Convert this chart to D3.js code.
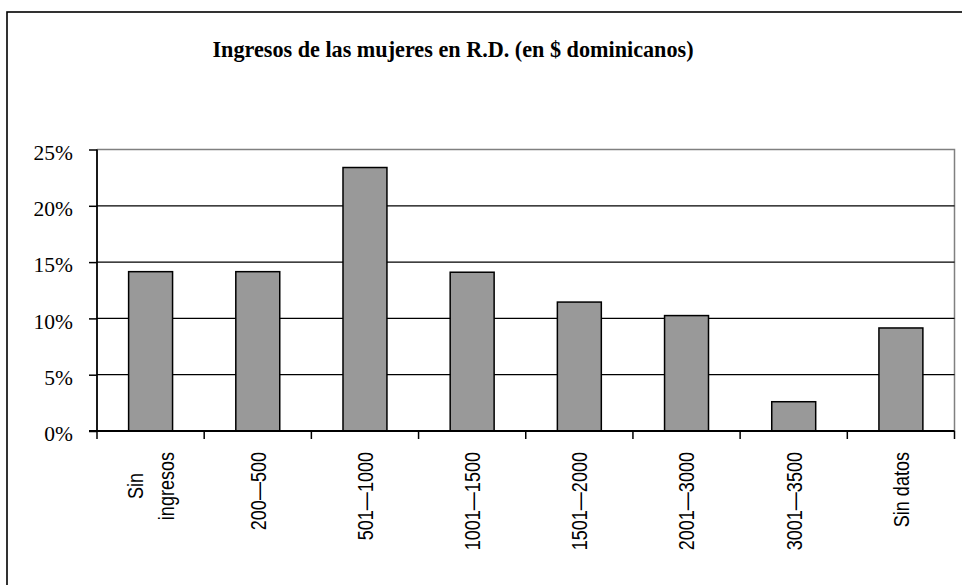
<!DOCTYPE html>
<html><head><meta charset="utf-8">
<script src="https://cdn.jsdelivr.net/npm/d3@7/dist/d3.min.js"></script>
<style>body{margin:0;background:#fff}svg{display:block}</style>
</head><body><svg id="c" width="962" height="585"></svg>
<script>
const title = "Ingresos de las mujeres en R.D. (en $ dominicanos)";
const categories = [["Sin","ingresos"],["200—500"],["501—1000"],["1001—1500"],["1501—2000"],["2001—3000"],["3001—3500"],["Sin datos"]];
const values = [14.15, 14.15, 23.4, 14.1, 11.45, 10.25, 2.6, 9.15];
const yTicks = [0, 5, 10, 15, 20, 25];

const SERIF = "'Liberation Serif','Times New Roman',serif";
const SANS = "'Liberation Sans',Arial,sans-serif";
const svg = d3.select("#c");
const L = 97, R = 954.5, T = 149.5, B = 431;
const keys = categories.map((c,i)=>i);
const x = d3.scaleBand().domain(keys).range([L,R]).paddingInner(0).paddingOuter(0);
const y = d3.scaleLinear().domain([0,25]).range([B,T]);
const barFrac = 0.41;

// outer frame
svg.append("rect").attr("x",7).attr("y",12).attr("width",2000).attr("height",2000)
  .attr("fill","none").attr("stroke","#000").attr("stroke-width",1.6);

svg.append("text").attr("x",453).attr("y",57).attr("text-anchor","middle")
  .attr("font-family",SERIF).style("font-family",SERIF).attr("font-weight","bold")
  .attr("font-size",22.2).text(title);

// plot top/right border (gray)
svg.append("path").attr("d",`M${L},${T}H${R}V${B}`).attr("fill","none").attr("stroke","#808080").attr("stroke-width",1.5);

// gridlines
svg.append("g").selectAll("line").data(yTicks.filter(d=>d>0&&d<25)).join("line")
  .attr("x1",L).attr("x2",R).attr("y1",d=>y(d)).attr("y2",d=>y(d))
  .attr("stroke","#000").attr("stroke-width",1.3);

// bars
svg.append("g").selectAll("rect").data(values).join("rect")
  .attr("x",(d,i)=>x(i)+x.bandwidth()*(1-barFrac)/2)
  .attr("width",x.bandwidth()*barFrac)
  .attr("y",d=>y(d)).attr("height",d=>B-y(d))
  .attr("fill","#999999").attr("stroke","#000").attr("stroke-width",1.5);

// y axis
const yAxis = d3.axisLeft(y).tickValues(yTicks).tickFormat(d=>d+"%").tickSize(8).tickPadding(16);
const gy = svg.append("g").attr("transform",`translate(${L},0)`).call(yAxis);
gy.attr("font-family",SERIF).attr("font-size",21.5);
gy.select(".domain").attr("stroke","#000").attr("stroke-width",1.8).attr("d",`M0,${T}V${B}`);
gy.selectAll(".tick line").attr("stroke","#000").attr("stroke-width",1.5);
gy.selectAll(".tick text").attr("font-family",SERIF).style("font-family",SERIF)
  .style("font-size","21.5px").attr("fill","#000").attr("dy","0.45em");

// x axis line + ticks at category boundaries
const bounds = keys.map(i=>x(i)).concat([R]);
svg.append("line").attr("x1",L-8).attr("x2",R).attr("y1",B).attr("y2",B).attr("stroke","#000").attr("stroke-width",1.8);
svg.append("g").selectAll("line").data(bounds).join("line")
  .attr("x1",d=>d).attr("x2",d=>d).attr("y1",B).attr("y2",B+8)
  .attr("stroke","#000").attr("stroke-width",1.5);

// x labels (rotated, horizontally condensed)
const fs = 22, lh = 32, cond = 0.82;
const gx = svg.append("g");
categories.forEach((lines,i)=>{
  const cx = x(i)+x.bandwidth()/2;
  const n = lines.length;
  const g = gx.append("g").attr("transform",`translate(${cx},${B+21}) rotate(-90) scale(${cond},1)`);
  const t = g.append("text").attr("font-family",SANS).style("font-family",SANS)
    .attr("font-size",fs).attr("fill","#000");
  lines.forEach((s,j)=>{
    t.append("tspan").attr("x",0).attr("y",(j-(n-1)/2)*lh).attr("dy","0.36em").text(s);
  });
  if(n===1){ t.attr("text-anchor","end"); }
  else {
    const w = d3.max(t.selectAll("tspan").nodes(), nd=>nd.getComputedTextLength());
    t.attr("text-anchor","middle").attr("transform",`translate(${-w/2},0)`);
  }
});
</script></body></html>
